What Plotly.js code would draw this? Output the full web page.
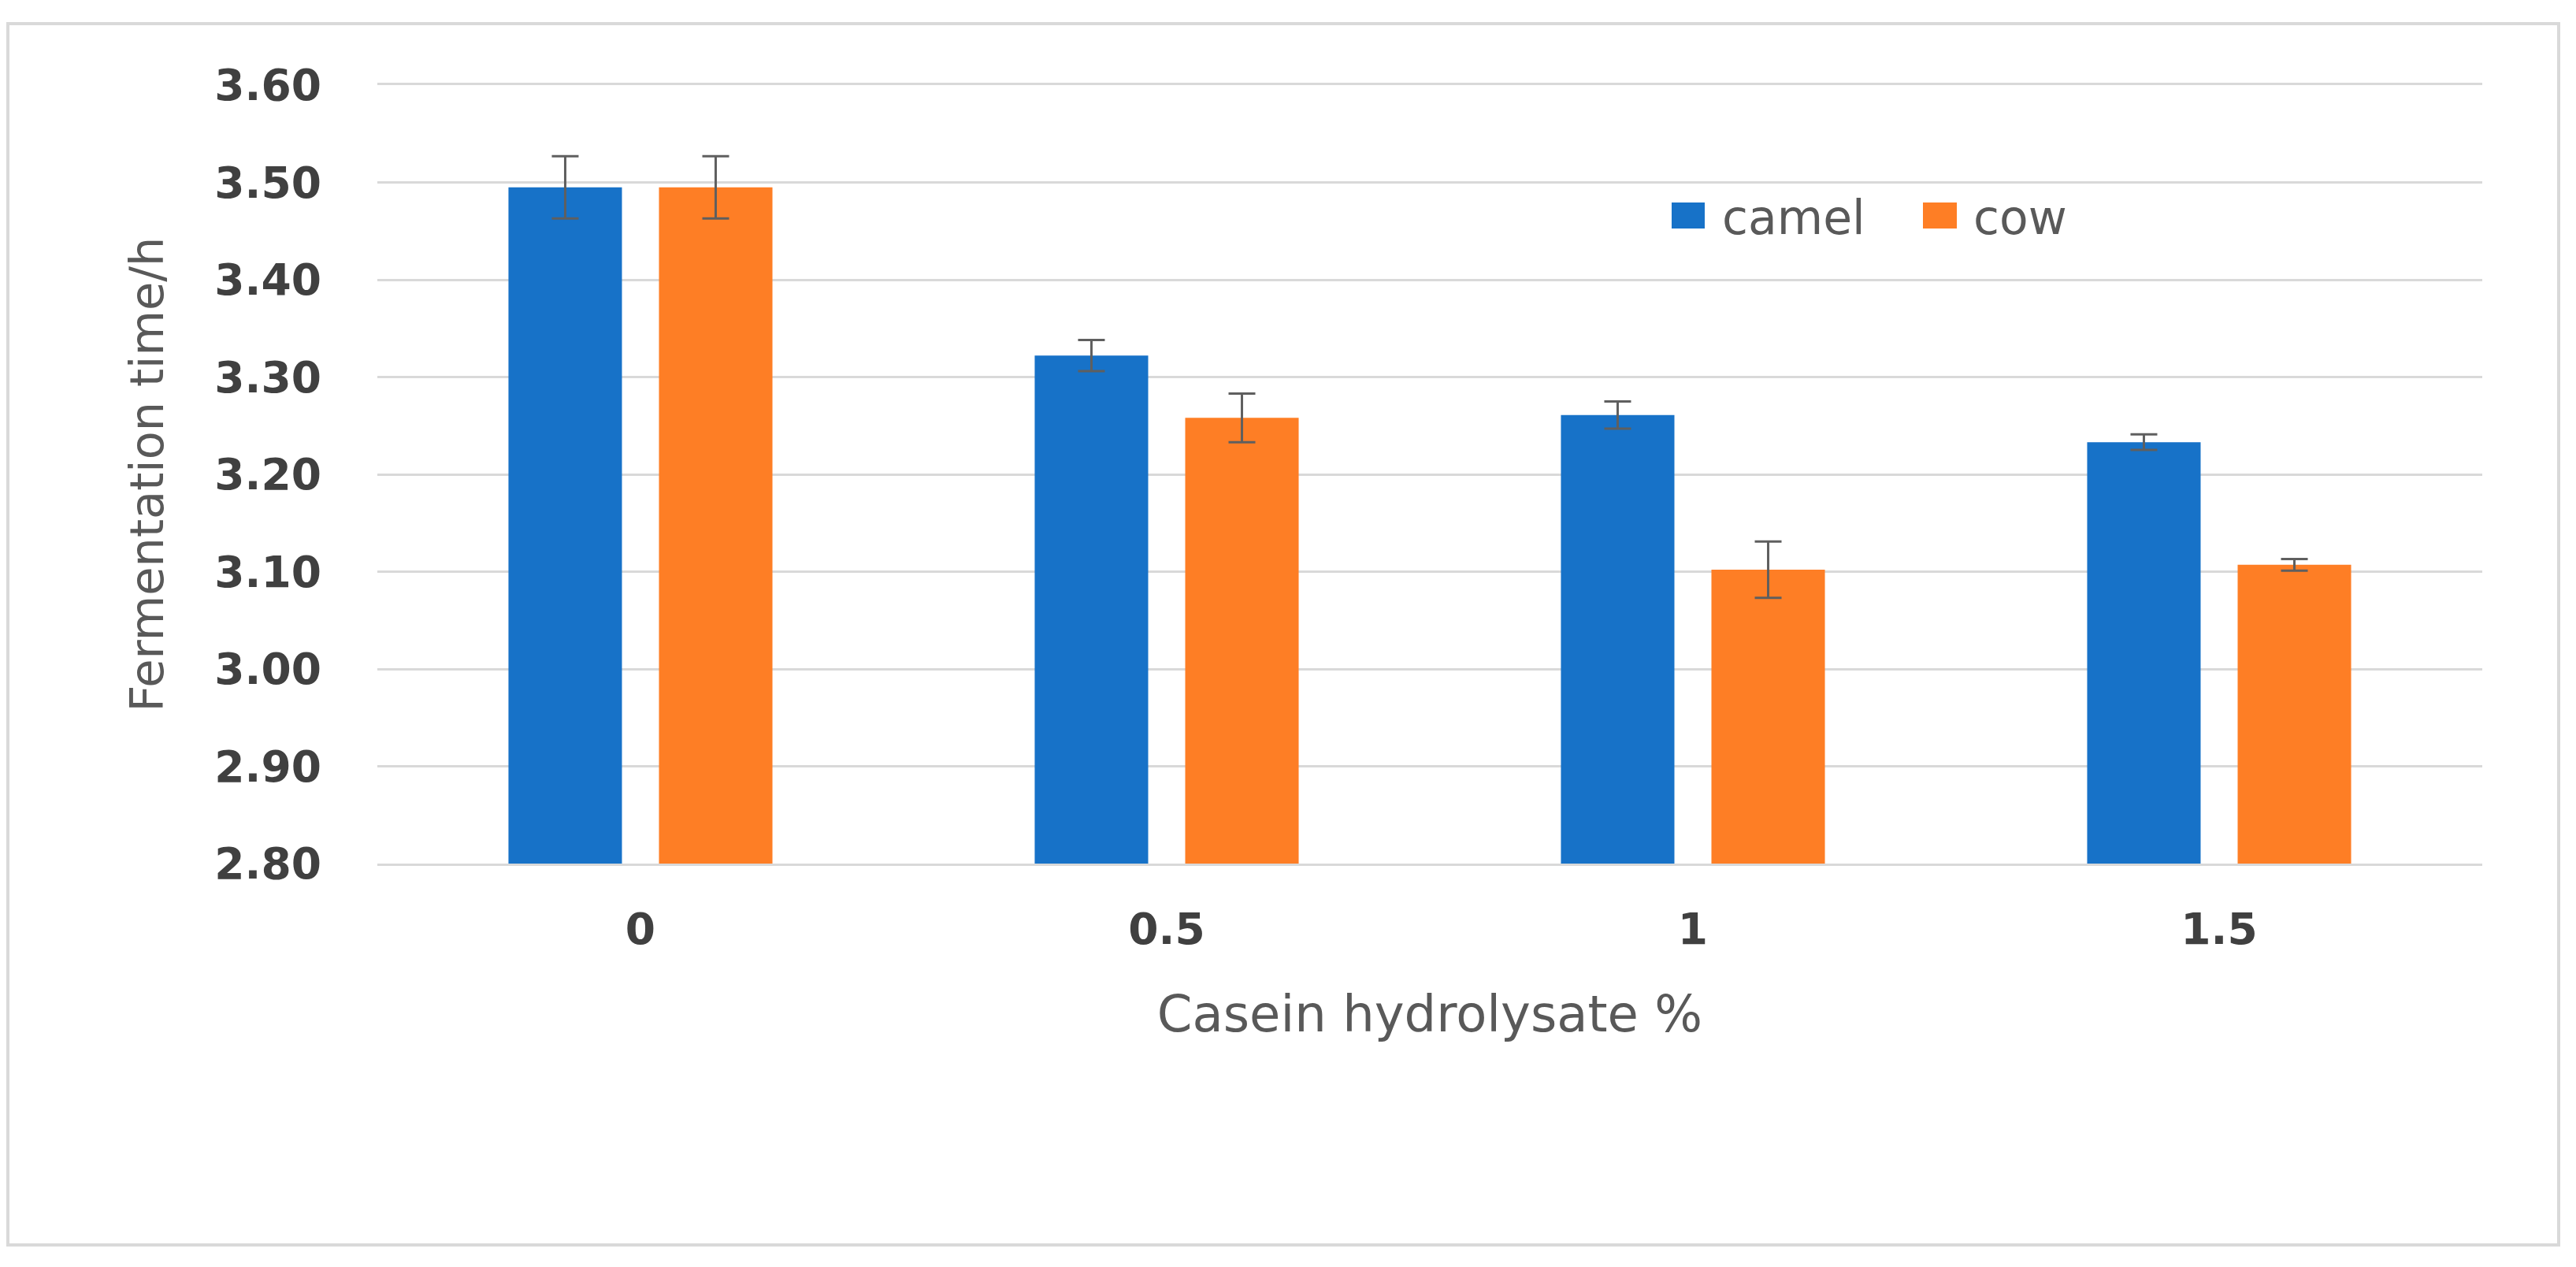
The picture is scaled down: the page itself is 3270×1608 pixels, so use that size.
<!DOCTYPE html>
<html>
<head>
<meta charset="utf-8">
<script src="https://cdn.plot.ly/plotly-3.0.1.min.js"></script>
<style>
  html, body { margin: 0; padding: 0; background: #ffffff; }
  #chart { width: 3270px; height: 1608px; }
</style>
</head>
<body>
<div id="chart"></div>
<script>
// ---- data ----
const categories = ['0', '0.5', '1', '1.5'];
const seriesNames = ['camel', 'cow'];
const camelValues = [3.495, 3.322, 3.261, 3.233];
const camelErrors = [0.032, 0.016, 0.014, 0.008];
const cowValues = [3.495, 3.258, 3.102, 3.107];
const cowErrors = [0.032, 0.025, 0.029, 0.006];
const yTickValues = [2.8, 2.9, 3.0, 3.1, 3.2, 3.3, 3.4, 3.5, 3.6];
const yTickLabels = ['2.80', '2.90', '3.00', '3.10', '3.20', '3.30', '3.40', '3.50', '3.60'];
const xAxisTitle = 'Casein hydrolysate %';
const yAxisTitle = 'Fermentation time/h';

// ---- styles ----
const colors = ['#1772c8', '#fe7e25'];
const errColor = '#5f5f5f';
const gridColor = '#d9d9d9';
const tickColor = '#404040';
const titleColor = '#595959';

const W = 3270, H = 1608;
const margin = { l: 479, r: 119, t: 108, b: 512, pad: 0 };
const plotW = W - margin.l - margin.r;
const plotH = H - margin.t - margin.b;
// helpers converting page pixels to paper fractions (for frame & legend only)
const px = x => (x - margin.l) / plotW;
const py = y => (H - margin.b - y) / plotH;

const traces = [
  {
    type: 'bar', name: seriesNames[0], x: categories, y: camelValues,
    marker: { color: colors[0], line: { width: 0 } },
    error_y: { type: 'data', array: camelErrors, visible: true, color: errColor, thickness: 3, width: 17 },
    showlegend: false, hoverinfo: 'x+y'
  },
  {
    type: 'bar', name: seriesNames[1], x: categories, y: cowValues,
    marker: { color: colors[1], line: { width: 0 } },
    error_y: { type: 'data', array: cowErrors, visible: true, color: errColor, thickness: 3, width: 17 },
    showlegend: false, hoverinfo: 'x+y'
  }
];

// legend drawn as shapes + text so the swatches can match the reference size
const legendItems = [
  { x0: 2122, x1: 2164, tx: 2184 },
  { x0: 2441, x1: 2484, tx: 2503 }
];
const legendY0 = 257, legendY1 = 290;

const shapes = [
  { type: 'rect', xref: 'paper', yref: 'paper', x0: px(10), x1: px(3248), y0: py(1580), y1: py(30),
    line: { color: '#d9d9d9', width: 4 }, fillcolor: 'rgba(0,0,0,0)', layer: 'below' }
];
const annotations = [];
legendItems.forEach((it, i) => {
  shapes.push({ type: 'rect', xref: 'paper', yref: 'paper', x0: px(it.x0), x1: px(it.x1),
    y0: py(legendY1), y1: py(legendY0), line: { width: 0 }, fillcolor: colors[i], layer: 'above' });
  annotations.push({ xref: 'paper', yref: 'paper', x: px(it.tx), y: py((legendY0 + legendY1) / 2 + 2),
    xanchor: 'left', yanchor: 'middle', showarrow: false, text: seriesNames[i],
    font: { family: 'DejaVu Sans', size: 60, color: titleColor } });
});

const layout = {
  width: W, height: H,
  margin: margin,
  paper_bgcolor: '#ffffff', plot_bgcolor: '#ffffff',
  barmode: 'group', bargap: 0.428, bargroupgap: 0.246,
  showlegend: false,
  xaxis: {
    type: 'category', categoryarray: categories, categoryorder: 'array',
    showgrid: false, zeroline: false, ticks: '',
    showline: true, mirror: true, linecolor: gridColor, linewidth: 3,
    tickfont: { family: 'DejaVu Sans', size: 55, color: tickColor, weight: 'bold' },
    ticklabelstandoff: 33,
    title: { text: xAxisTitle, font: { family: 'DejaVu Sans', size: 64, color: titleColor }, standoff: 55 },
    automargin: false
  },
  yaxis: {
    range: [2.8, 3.6],
    tickmode: 'array', tickvals: yTickValues, ticktext: yTickLabels,
    showgrid: true, gridcolor: gridColor, gridwidth: 3,
    zeroline: false, showline: false, ticks: '',
    tickfont: { family: 'DejaVu Sans', size: 55, color: tickColor, weight: 'bold' },
    ticklabelstandoff: 70,
    title: { text: yAxisTitle, font: { family: 'DejaVu Sans', size: 59, color: titleColor }, standoff: 45 },
    automargin: false
  },
  shapes: shapes,
  annotations: annotations
};

Plotly.newPlot('chart', traces, layout, { displayModeBar: false, staticPlot: true });
</script>
</body>
</html>
